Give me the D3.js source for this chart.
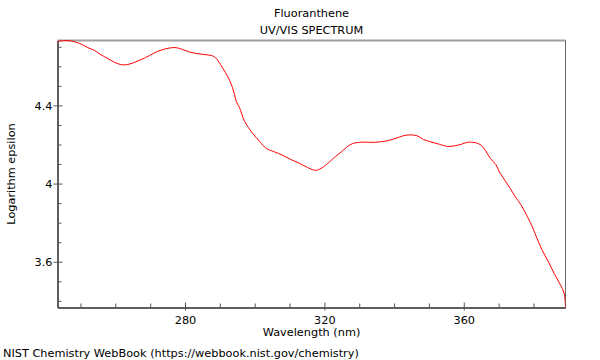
<!DOCTYPE html>
<html><head><meta charset="utf-8">
<script src="https://cdn.jsdelivr.net/npm/d3@7"></script>
<style>body{margin:0;background:#fff}svg{display:block}text{font-family:"DejaVu Sans",sans-serif;font-size:11.3px;fill:#000}</style>
</head><body><svg id="c" width="600" height="360"></svg>
<script>
const title = "Fluoranthene";
const subtitle = "UV/VIS SPECTRUM";
const xLabel = "Wavelength (nm)";
const yLabel = "Logarithm epsilon";
const footer = "NIST Chemistry WebBook (https://webbook.nist.gov/chemistry)";
const xDomain = [243.4, 389.2];
const yDomain = [3.366, 4.732];
const xMajorTicks = [280, 320, 360];
const yMajorTicks = [3.6, 4, 4.4];
const wavelength = [243.3,245.45,247.45,249.75,252.05,254.05,255.5,257.8,259.8,261.8,263.5,265.5,267.5,269.8,272.1,274.1,276.1,277.6,279.3,281.3,283.6,285.6,287.6,288.7,290.2,291.6,292.8,293.6,294.2,294.7,295.6,297.1,299.4,301.4,303.3,305.7,308.0,310.5,312.8,315.1,316.6,317.7,319.1,321.4,323.2,324.8,326.3,328.0,330.9,334.3,337.7,339.5,341.5,343.2,344.9,346.7,348.4,350.1,353.0,355.4,357.3,359.3,361.0,362.2,363.6,365.0,366.2,367.6,369.2,370.2,371.8,373.3,374.7,376.5,378.2,379.6,381.0,382.5,384.2,385.9,387.6,388.8,389.2];
const logEps = [4.727,4.732,4.729,4.717,4.696,4.681,4.663,4.640,4.620,4.608,4.609,4.620,4.635,4.655,4.676,4.688,4.695,4.695,4.686,4.673,4.665,4.660,4.655,4.645,4.609,4.568,4.528,4.492,4.456,4.420,4.390,4.318,4.257,4.216,4.180,4.162,4.145,4.122,4.104,4.083,4.071,4.068,4.078,4.110,4.139,4.161,4.185,4.204,4.212,4.211,4.218,4.226,4.238,4.247,4.249,4.244,4.226,4.216,4.201,4.190,4.193,4.201,4.211,4.212,4.208,4.196,4.170,4.129,4.098,4.060,4.017,3.976,3.935,3.889,3.833,3.782,3.721,3.659,3.603,3.542,3.486,3.440,3.366];

const svg = d3.select("#c");
const m = {l:57.5, r:565.5, t:40.5, b:307.5};
const x = d3.scaleLinear().domain(xDomain).range([m.l, m.r]);
const y = d3.scaleLinear().domain(yDomain).range([m.b, m.t]);

// frame
svg.append("line").attr("x1",m.l).attr("x2",m.r).attr("y1",m.t).attr("y2",m.t).attr("stroke","#a0a0a0").attr("stroke-width",2);
svg.append("line").attr("x1",m.r).attr("x2",m.r).attr("y1",m.t).attr("y2",m.b).attr("stroke","#666").attr("stroke-width",1);

// minor ticks
const xMinor = d3.range(250, 390, 10).filter(v => !xMajorTicks.includes(v));
const yMinor = d3.range(34, 48).map(v => v/10).filter(v => !yMajorTicks.some(t => Math.abs(t-v)<1e-6) && v>=yDomain[0] && v<=yDomain[1]);

const xAxisG = svg.append("g").attr("transform",`translate(0,${m.b})`);
xAxisG.call(d3.axisBottom(x).tickValues(xMajorTicks).tickFormat(d3.format("d")).tickSizeInner(-5).tickSizeOuter(0).tickPadding(5));
xAxisG.selectAll(".tick line").attr("y2",-5).attr("y1",3);
const xAxisMinor = svg.append("g").attr("transform",`translate(0,${m.b})`);
xAxisMinor.call(d3.axisBottom(x).tickValues(xMinor).tickFormat("").tickSizeInner(-4).tickSizeOuter(0));

const yAxisG = svg.append("g").attr("transform",`translate(${m.l},0)`);
yAxisG.call(d3.axisLeft(y).tickValues(yMajorTicks).tickFormat(d3.format("~g")).tickSizeInner(-5).tickSizeOuter(0).tickPadding(8));
yAxisG.selectAll(".tick line").attr("x1",-4).attr("x2",5);
const yAxisMinor = svg.append("g").attr("transform",`translate(${m.l},0)`);
yAxisMinor.call(d3.axisLeft(y).tickValues(yMinor).tickFormat("").tickSizeInner(-4).tickSizeOuter(0));

[xAxisG,xAxisMinor,yAxisG,yAxisMinor].forEach(g=>{
  g.selectAll(".domain").attr("stroke","#555").attr("stroke-width",1.5);
  g.selectAll(".tick line").attr("stroke","#555");
  g.selectAll(".tick text").attr("font-family","DejaVu Sans").attr("font-size","11.3px").attr("fill","#000");
});
xAxisG.selectAll(".tick text").attr("y",8);
yAxisG.selectAll(".tick text").attr("x",-5);

// line
const data = wavelength.map((w,i)=>({w, v:logEps[i]}));
svg.append("defs").append("clipPath").attr("id","clip").append("rect").attr("x",m.l).attr("y",m.t-1).attr("width",m.r-m.l).attr("height",m.b-m.t+1);
svg.append("path").datum(data).attr("clip-path","url(#clip)")
  .attr("fill","none").attr("stroke","#ff0000").attr("stroke-width",1)
  .attr("d", d3.line().x(d=>x(d.w)).y(d=>y(d.v)).curve(d3.curveCatmullRom));

// texts
const cx = (m.l+m.r)/2;
svg.append("text").attr("x",cx).attr("y",17).attr("text-anchor","middle").text(title);
svg.append("text").attr("x",cx).attr("y",34).attr("text-anchor","middle").text(subtitle);
svg.append("text").attr("x",cx).attr("y",336).attr("text-anchor","middle").text(xLabel);
svg.append("text").attr("transform",`translate(15,${(m.t+m.b)/2}) rotate(-90)`).attr("text-anchor","middle").text(yLabel);
svg.append("text").attr("x",3).attr("y",357).text(footer);
</script></body></html>
